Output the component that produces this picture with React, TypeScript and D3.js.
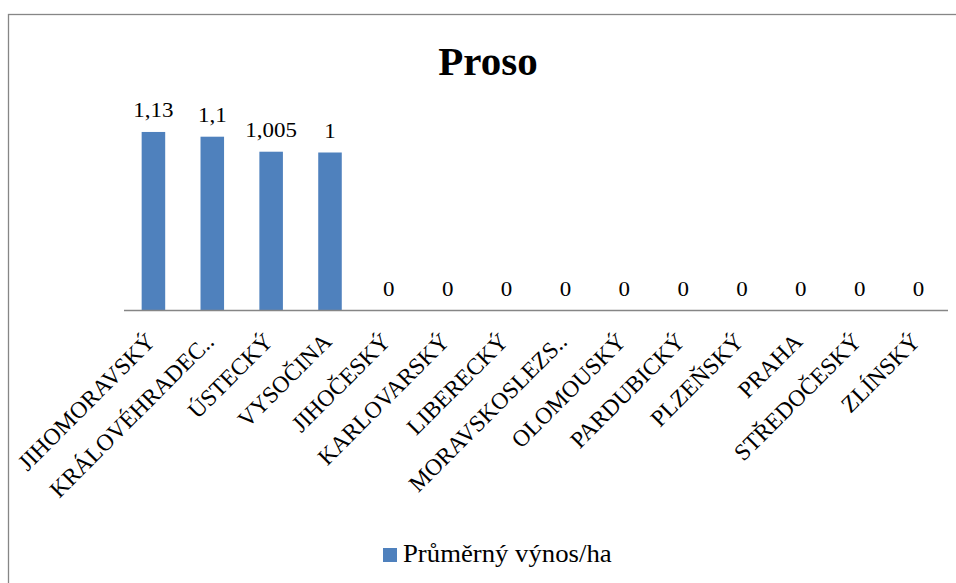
import React from "react";
import * as d3 from "d3";

// Average millet (proso) yield per hectare by Czech region
const regions = [
  "JIHOMORAVSKÝ",
  "KRÁLOVÉHRADEC..",
  "ÚSTECKÝ",
  "VYSOČINA",
  "JIHOČESKÝ",
  "KARLOVARSKÝ",
  "LIBERECKÝ",
  "MORAVSKOSLEZS..",
  "OLOMOUSKÝ",
  "PARDUBICKÝ",
  "PLZEŇSKÝ",
  "PRAHA",
  "STŘEDOČESKÝ",
  "ZLÍNSKÝ",
];
const yieldPerHa = [1.13, 1.1, 1.005, 1, 0, 0, 0, 0, 0, 0, 0, 0, 0, 0];
const valueLabels = ["1,13", "1,1", "1,005", "1", "0", "0", "0", "0", "0", "0", "0", "0", "0", "0"];
const chartTitle = "Proso";
const seriesName = "Průměrný výnos/ha";

const W = 956;
const H = 583;
const SERIF = { fontFamily: '"Liberation Serif", "Times New Roman", Times, serif' };
const BAR = "#4F81BD";
const AXIS = "#868686";

export default function App() {
  const plotLeft = 124;
  const plotRight = 948;
  const baseY = 310.5;

  const x = d3.scaleBand<string>().domain(regions).range([plotLeft, plotRight]).padding(0);
  const y = d3.scaleLinear().domain([0, 1.2]).range([baseY, baseY - 1.2 * 158]);
  const barW = x.bandwidth() * 0.4;

  return (
    <svg width={W} height={H} style={{ position: "absolute", left: 0, top: 0, background: "#fff" }}>
      <rect x={0} y={0} width={W} height={H} fill="#fff" />
      {/* chart frame */}
      <rect x={8.5} y={14.5} width={1200} height={1200} fill="none" stroke={AXIS} strokeWidth={1.3} />

      <text x={488} y={75} textAnchor="middle" fontSize={41} fontWeight="bold" fill="#000" style={SERIF}>
        {chartTitle}
      </text>

      {/* bars */}
      {regions.map((r, i) => {
        const cx = (x(r) as number) + x.bandwidth() / 2;
        const v = yieldPerHa[i];
        return (
          <g key={r}>
            <rect x={cx - barW / 2} y={y(v)} width={barW} height={baseY - y(v)} fill={BAR} />
            <text
              transform={`translate(${cx},${y(v) - 15}) scale(1.12,1)`}
              textAnchor="middle"
              fontSize={20.5}
              fill="#000"
              style={SERIF}
            >
              {valueLabels[i]}
            </text>
          </g>
        );
      })}

      {/* category axis */}
      <line x1={plotLeft} x2={plotRight} y1={baseY} y2={baseY} stroke={AXIS} strokeWidth={1.3} />
      {regions.map((r) => {
        const cx = (x(r) as number) + x.bandwidth() / 2;
        return (
          <text
            key={r}
            transform={`translate(${cx + 3},343) rotate(-45)`}
            textAnchor="end"
            fontSize={23.5}
            fill="#000"
            style={SERIF}
          >
            {r}
          </text>
        );
      })}

      {/* legend */}
      <rect x={383} y={548} width={14} height={14} fill={BAR} />
      <text transform="translate(403,562) scale(1.07,1)" fontSize={25} fill="#000" style={SERIF}>
        {seriesName}
      </text>
    </svg>
  );
}
